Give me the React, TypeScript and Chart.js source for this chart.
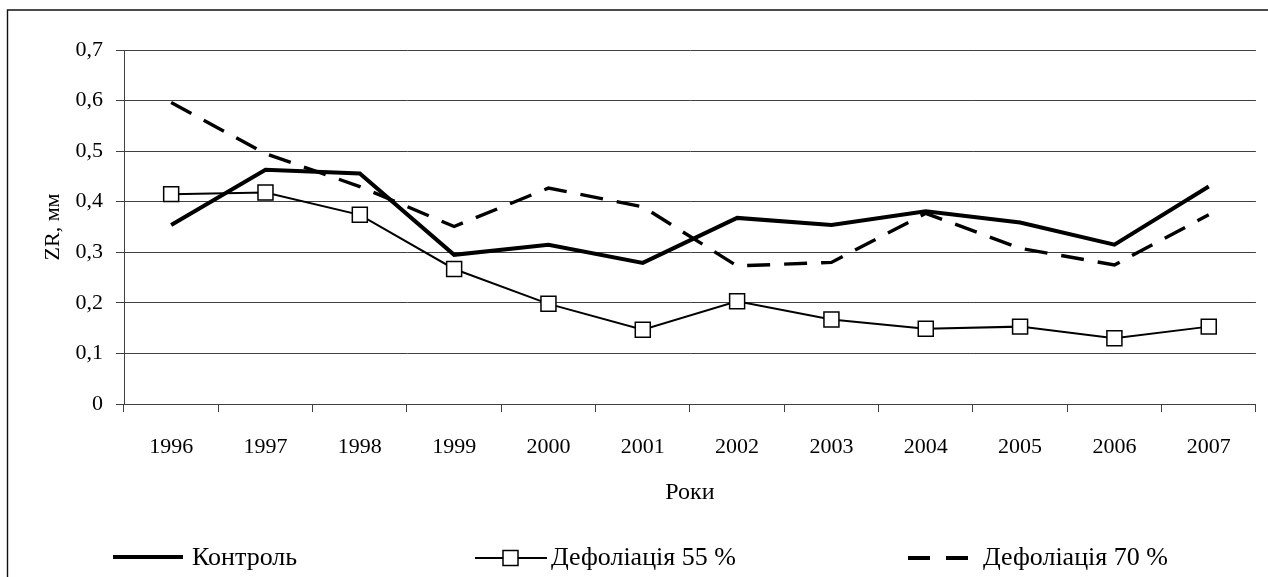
import React, { useEffect, useRef } from 'react';
import { Chart, registerables } from 'chart.js';

Chart.register(...registerables);

const years = ['1996', '1997', '1998', '1999', '2000', '2001', '2002', '2003', '2004', '2005', '2006', '2007'];
const kontrol = [0.354, 0.463, 0.456, 0.295, 0.315, 0.279, 0.368, 0.354, 0.381, 0.359, 0.315, 0.43];
const def55 = [0.415, 0.418, 0.374, 0.267, 0.198, 0.147, 0.203, 0.167, 0.149, 0.153, 0.13, 0.153];
const def70 = [0.596, 0.495, 0.43, 0.351, 0.427, 0.39, 0.273, 0.28, 0.377, 0.308, 0.275, 0.374];
const yTickLabels = ['0', '0,1', '0,2', '0,3', '0,4', '0,5', '0,6', '0,7'];
const seriesLabels = ['Контроль', 'Дефоліація 55 %', 'Дефоліація 70 %'];
const yTitle = 'ZR, мм';
const xTitle = 'Роки';

const FONT = '"Liberation Serif", "Times New Roman", serif';

const legendPlugin = {
  id: 'customLegend',
  afterDraw(chart: any) {
    const ctx = chart.ctx as CanvasRenderingContext2D;
    const ds = chart.data.datasets;
    const y = 558;
    ctx.save();
    ctx.font = `26px ${FONT}`;
    ctx.textBaseline = 'middle';
    ctx.textAlign = 'left';
    ctx.fillStyle = '#000';
    ctx.strokeStyle = '#000';
    ctx.lineCap = 'butt';

    // item 1
    ctx.lineWidth = ds[0].borderWidth;
    ctx.beginPath();
    ctx.moveTo(113, y - 1);
    ctx.lineTo(183, y - 1);
    ctx.stroke();
    ctx.fillText(ds[0].label, 192, y);

    // item 2
    ctx.lineWidth = ds[1].borderWidth;
    ctx.beginPath();
    ctx.moveTo(475, y);
    ctx.lineTo(547, y);
    ctx.stroke();
    ctx.fillStyle = '#fff';
    ctx.fillRect(503, y - 7.5, 15, 15);
    ctx.lineWidth = 1.5;
    ctx.strokeRect(503, y - 7.5, 15, 15);
    ctx.fillStyle = '#000';
    ctx.fillText(ds[1].label, 551, y);

    // item 3
    ctx.lineWidth = 4;
    ctx.beginPath();
    ctx.moveTo(908, y);
    ctx.lineTo(930, y);
    ctx.moveTo(946, y);
    ctx.lineTo(968, y);
    ctx.stroke();
    ctx.fillText(ds[2].label, 983, y);

    // outer frame
    ctx.lineWidth = 1.4;
    ctx.strokeStyle = '#111';
    ctx.beginPath();
    ctx.moveTo(7.5, 577);
    ctx.lineTo(7.5, 10);
    ctx.lineTo(1268, 10);
    ctx.stroke();
    ctx.restore();
  },
};

export default function App() {
  const ref = useRef<HTMLCanvasElement | null>(null);

  useEffect(() => {
    if (!ref.current) return;
    const chart = new Chart(ref.current, {
      type: 'line',
      data: {
        labels: years,
        datasets: [
          {
            label: seriesLabels[0],
            data: kontrol,
            borderColor: '#000',
            borderWidth: 4,
            pointRadius: 0,
            tension: 0,
            fill: false,
          },
          {
            label: seriesLabels[1],
            data: def55,
            borderColor: '#000',
            borderWidth: 2,
            pointStyle: 'rect',
            pointRadius: 10.6,
            pointBorderWidth: 1.5,
            pointBackgroundColor: '#fff',
            pointBorderColor: '#000',
            tension: 0,
            fill: false,
          },
          {
            label: seriesLabels[2],
            data: def70,
            borderColor: '#000',
            borderWidth: 3.4,
            borderDash: [23, 14],
            pointRadius: 0,
            tension: 0,
            fill: false,
          },
        ],
      },
      options: {
        responsive: false,
        animation: false,
        devicePixelRatio: 1,
        layout: { padding: { left: 0, top: 50, right: 11, bottom: 63 } },
        plugins: {
          legend: { display: false },
          tooltip: { enabled: false },
        },
        scales: {
          x: {
            type: 'category',
            offset: true,
            grid: {
              offset: true,
              drawOnChartArea: false,
              drawTicks: true,
              tickLength: 8,
              color: '#404040',
              lineWidth: 1,
            },
            border: { display: true, color: '#404040', width: 1 },
            ticks: {
              color: '#000',
              font: { family: FONT, size: 22 },
              padding: 22,
              maxRotation: 0,
              autoSkip: false,
            },
            title: {
              display: true,
              text: xTitle,
              color: '#000',
              font: { family: FONT, size: 24 },
              padding: { top: 0, bottom: 7 },
            },
            afterFit: (scale: any) => {
              scale.height = 110;
            },
          },
          y: {
            min: 0,
            max: 0.7,
            grid: {
              color: '#404040',
              lineWidth: 1,
              drawTicks: true,
              tickLength: 8,
            },
            border: { display: true, color: '#404040', width: 1 },
            ticks: {
              stepSize: 0.1,
              color: '#000',
              font: { family: FONT, size: 22 },
              padding: 13,
              callback: (v: any) => yTickLabels[Math.round(Number(v) * 10)],
            },
            title: {
              display: true,
              text: yTitle,
              color: '#000',
              font: { family: FONT, size: 22 },
              padding: { top: 40, bottom: 0 },
            },
            afterFit: (scale: any) => {
              scale.width = 124;
            },
          },
        },
      },
      plugins: [legendPlugin],
    });
    return () => chart.destroy();
  }, []);

  return (
    <div style={{ position: 'fixed', left: 0, top: 0, width: 1268, height: 577, background: '#fff' }}>
      <canvas ref={ref} width={1268} height={577} style={{ display: 'block', width: 1268, height: 577 }} />
    </div>
  );
}
